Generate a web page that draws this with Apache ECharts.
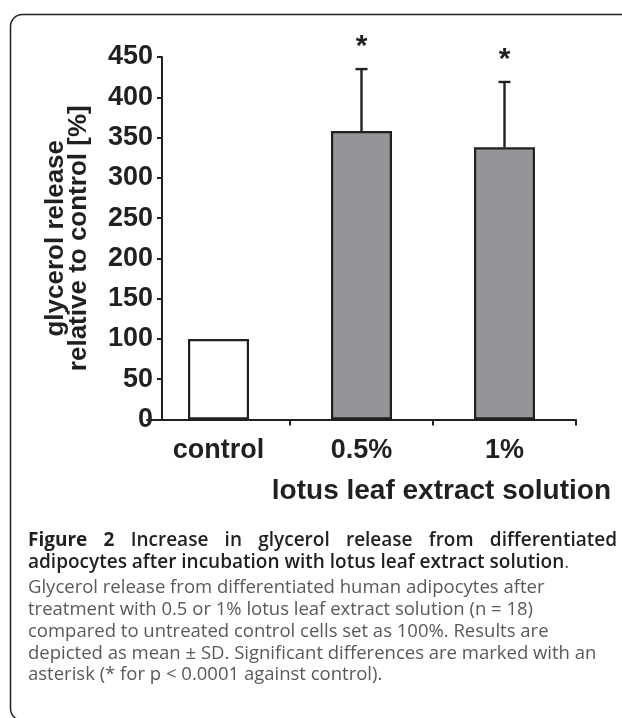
<!DOCTYPE html>
<html>
<head>
<meta charset="utf-8">
<script src="https://cdn.jsdelivr.net/npm/echarts@6/dist/echarts.min.js"></script>
<style>
html,body{margin:0;padding:0;background:#ffffff;}
#chart{width:622px;height:718px;}
</style>
</head>
<body>
<div id="chart"></div>
<script>
// ---- data ----
const categories = ['control', '0.5%', '1%'];
const meanValues = [100, 358, 338];
const sdValues = [0, 77, 81];
const significance = ['', '*', '*'];
const yMin = 0;
const yMax = 450;
const yStep = 50;
const yAxisName = 'glycerol release\nrelative to control [%]';
const xAxisName = 'lotus leaf extract solution';
const captionHead = ['Figure 2', 'Increase in glycerol release from differentiated'];
const captionHead2 = 'adipocytes after incubation with lotus leaf extract solution';
const captionBody = [
  'Glycerol release from differentiated human adipocytes after',
  'treatment with 0.5 or 1% lotus leaf extract solution (n = 18)',
  'compared to untreated control cells set as 100%. Results are',
  'depicted as mean \u00b1 SD. Significant differences are marked with an',
  'asterisk (* for p < 0.0001 against control).'
];

// ---- styles ----
const INK = '#231f20';
const GRAY_TEXT = '#58595b';
const AX_FONT = '"Liberation Sans", Arial, sans-serif';
const CAP_FONT = '"Open Sans", "Noto Sans", sans-serif';

const mctx = document.createElement('canvas').getContext('2d');
function measure(text, font) { mctx.font = font; return mctx.measureText(text).width; }

const graphics = [];
// frame
graphics.push({
  type: 'rect', silent: true,
  shape: { x: 10.5, y: 14.5, width: 700, height: 706, r: 12 },
  style: { fill: 'none', stroke: INK, lineWidth: 1.5 }
});
// justified first caption line
(function () {
  const left = 28, right = 617, y = 541;
  const fBold = 'bold 19px ' + CAP_FONT;
  const fSemi = '600 19px ' + CAP_FONT;
  const words = [];
  captionHead[0].split(' ').forEach(w => words.push({ w, f: fBold }));
  captionHead[1].split(' ').forEach(w => words.push({ w, f: fSemi }));
  let total = 0;
  words.forEach(o => { o.width = measure(o.w, o.f); total += o.width; });
  const gap = (right - left - total) / (words.length - 1);
  let x = left;
  words.forEach(o => {
    graphics.push({ type: 'text', silent: true,
      style: { text: o.w, x: x, y: y, font: o.f, fill: INK, verticalAlign: 'middle', align: 'left' } });
    x += o.width + gap;
  });
})();
(function () {
  const f = '600 19px ' + CAP_FONT;
  graphics.push({ type: 'text', silent: true,
    style: { text: captionHead2, x: 28, y: 563, font: f, fill: INK, verticalAlign: 'middle', align: 'left' } });
  const w = measure(captionHead2, f);
  graphics.push({ type: 'text', silent: true,
    style: { text: '.', x: 28 + w, y: 563, font: '19px ' + CAP_FONT, fill: GRAY_TEXT, verticalAlign: 'middle', align: 'left' } });
  captionBody.forEach((line, i) => {
    graphics.push({ type: 'text', silent: true,
      style: { text: line, x: 28, y: 588 + i * 21.8, font: '18.5px ' + CAP_FONT, fill: GRAY_TEXT, verticalAlign: 'middle', align: 'left' } });
  });
})();

const chart = echarts.init(document.getElementById('chart'), null, { renderer: 'canvas' });
chart.setOption({
  animation: false,
  backgroundColor: '#ffffff',
  title: {
    text: xAxisName, right: 11, top: 477, padding: 0,
    textStyle: { fontFamily: AX_FONT, fontSize: 28, fontWeight: 'bold', color: INK }
  },
  grid: { left: 147, right: 46, top: 57, bottom: 298.5, containLabel: false },
  xAxis: {
    type: 'category',
    data: categories,
    boundaryGap: true,
    axisLine: { lineStyle: { color: INK, width: 2 } },
    axisTick: { show: true, length: 6, lineStyle: { color: INK, width: 2 },
      interval: function (idx) { return idx > 0 && idx < categories.length; } },
    axisLabel: { margin: 18, fontFamily: AX_FONT, fontSize: 27, fontWeight: 'bold', color: INK },
    splitLine: { show: false }
  },
  yAxis: {
    type: 'value',
    min: yMin, max: yMax, interval: yStep,
    offset: -15,
    name: yAxisName,
    nameLocation: 'middle',
    nameGap: 72,
    nameTextStyle: { fontFamily: AX_FONT, fontSize: 26, fontWeight: 'bold', color: INK, lineHeight: 23 },
    axisLine: { show: true, lineStyle: { color: INK, width: 2 } },
    axisTick: { show: true, length: 5, lineStyle: { color: INK, width: 2 } },
    axisLabel: { margin: 9, fontFamily: AX_FONT, fontSize: 27, fontWeight: 'bold', color: INK },
    splitLine: { show: false }
  },
  graphic: graphics,
  series: [
    {
      type: 'bar',
      data: meanValues,
      barWidth: 61,
      itemStyle: {
        color: function (p) { return p.dataIndex === 0 ? '#ffffff' : '#939598'; },
        borderColor: INK,
        borderWidth: 2.2
      },
      z: 3
    },
    {
      type: 'custom',
      data: categories.map((c, i) => [i, meanValues[i], meanValues[i] + sdValues[i]]),
      encode: { x: 0, y: [1, 2] },
      z: 2,
      renderItem: function (params, api) {
        const i = api.value(0);
        const base = api.coord([i, api.value(1)]);
        const top = api.coord([i, api.value(2)]);
        const children = [];
        if (api.value(2) > api.value(1)) {
          children.push({ type: 'line', shape: { x1: base[0], y1: base[1], x2: top[0], y2: top[1] },
            style: { stroke: INK, lineWidth: 2.4 } });
          children.push({ type: 'line', shape: { x1: top[0] - 6, y1: top[1], x2: top[0] + 6, y2: top[1] },
            style: { stroke: INK, lineWidth: 2.4 } });
        }
        const s = significance[params.dataIndex];
        if (s) {
          children.push({ type: 'text', style: { text: s, x: top[0], y: top[1] - 22,
            font: 'bold 30px ' + AX_FONT, fill: INK, align: 'center', verticalAlign: 'middle' } });
        }
        return { type: 'group', children: children };
      }
    }
  ]
});
</script>
</body>
</html>
